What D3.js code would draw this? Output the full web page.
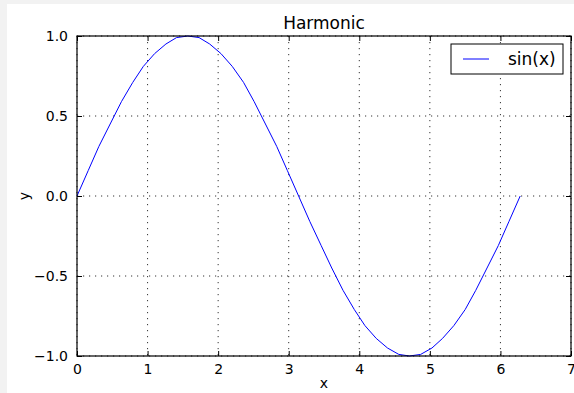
<!DOCTYPE html>
<html>
<head>
<meta charset="utf-8">
<script src="https://cdn.jsdelivr.net/npm/d3@7"></script>
<style>
  body { margin: 0; background: #f2f2f2; }
  text { font-family: "DejaVu Sans", sans-serif; fill: #000; }
</style>
</head>
<body>
<div id="chart"></div>
<script>
// values
var xs = [0, 0.16, 0.31, 0.47, 0.63, 0.79, 0.94, 1.10, 1.26, 1.41, 1.57, 1.73, 1.88, 2.04, 2.20, 2.36, 2.51, 2.67, 2.83, 2.98,
          3.14, 3.30, 3.46, 3.61, 3.77, 3.93, 4.08, 4.24, 4.40, 4.56, 4.71, 4.87, 5.03, 5.18, 5.34, 5.50, 5.65, 5.81, 5.97, 6.12, 6.28];
var ys = [0, 0.16, 0.31, 0.45, 0.59, 0.71, 0.81, 0.89, 0.95, 0.99, 1.00, 0.99, 0.95, 0.89, 0.81, 0.71, 0.59, 0.45, 0.31, 0.16,
          0.00, -0.16, -0.31, -0.45, -0.59, -0.71, -0.81, -0.89, -0.95, -0.99, -1.00, -0.99, -0.95, -0.89, -0.81, -0.71, -0.59, -0.45, -0.31, -0.16, 0.00];
var xTicks = [0, 1, 2, 3, 4, 5, 6, 7];
var yTicks = [-1.0, -0.5, 0.0, 0.5, 1.0];
var seriesName = "sin(x)";

var W = 574, H = 393;
var margin = {top: 36, right: 3, bottom: 37, left: 77},
    width = W - margin.left - margin.right,
    height = H - margin.top - margin.bottom;

var root = d3.select("#chart").append("svg")
    .attr("width", W)
    .attr("height", H);

// white figure area
root.append("rect")
    .attr("x", 7).attr("y", 4)
    .attr("width", W - 7).attr("height", H - 4)
    .attr("fill", "#fff");

var svg = root.append("g")
    .attr("transform", "translate(" + margin.left + "," + margin.top + ")");

var x = d3.scaleLinear().domain([0, 7]).range([0, width]);
var y = d3.scaleLinear().domain([-1, 1]).range([height, 0]);

// grid
svg.selectAll(".vgrid")
  .data(xTicks)
  .enter().append("line")
    .attr("x1", function(d) { return x(d); })
    .attr("x2", function(d) { return x(d); })
    .attr("y1", 0).attr("y2", height)
    .attr("stroke", "#000")
    .attr("stroke-width", 0.8)
    .attr("stroke-dasharray", "1.2,4.8");
svg.selectAll(".hgrid")
  .data(yTicks)
  .enter().append("line")
    .attr("y1", function(d) { return y(d); })
    .attr("y2", function(d) { return y(d); })
    .attr("x1", 0).attr("x2", width)
    .attr("stroke", "#000")
    .attr("stroke-width", 0.8)
    .attr("stroke-dasharray", "1.2,4.8");

// the curve
var pts = xs.map(function(v, i) { return [v, ys[i]]; });
svg.append("path")
    .datum(pts)
    .attr("fill", "none")
    .attr("stroke", "#0000ff")
    .attr("stroke-width", 1)
    .attr("d", d3.line()
      .x(function(d) { return x(d[0]); })
      .y(function(d) { return y(d[1]); }));

// axes, ticks pointing inward
function fmtY(d) { return d3.format(".1f")(d).replace("-", "\u2212"); }

var xb = svg.append("g")
    .attr("transform", "translate(0," + height + ")")
    .call(d3.axisBottom(x).tickValues(xTicks).tickSizeInner(-5).tickSizeOuter(0).tickPadding(8).tickFormat(d3.format("d")));
var xt = svg.append("g")
    .call(d3.axisTop(x).tickValues(xTicks).tickSizeInner(-5).tickSizeOuter(0).tickFormat(""));
var yl = svg.append("g")
    .call(d3.axisLeft(y).tickValues(yTicks).tickSizeInner(-5).tickSizeOuter(0).tickPadding(9).tickFormat(fmtY));
var yr = svg.append("g")
    .attr("transform", "translate(" + width + ",0)")
    .call(d3.axisRight(y).tickValues(yTicks).tickSizeInner(-5).tickSizeOuter(0).tickFormat(""));

[xb, xt, yl, yr].forEach(function(g) {
  g.select(".domain").remove();
  g.selectAll("line").attr("stroke", "#000");
  g.selectAll("text").style("font-size", "14px").style("font-family", "DejaVu Sans");
});

// frame
svg.append("rect")
    .attr("width", width).attr("height", height)
    .attr("fill", "none")
    .attr("stroke", "#000")
    .attr("stroke-width", 1.2);

// title and axis labels
svg.append("text")
    .attr("x", width / 2).attr("y", -7)
    .attr("text-anchor", "middle")
    .style("font-size", "17px")
    .text("Harmonic");

svg.append("text")
    .attr("x", width / 2).attr("y", height + 32)
    .attr("text-anchor", "middle")
    .style("font-size", "14px")
    .text("x");

svg.append("text")
    .attr("transform", "rotate(-90)")
    .attr("x", -height / 2).attr("y", -48)
    .attr("text-anchor", "middle")
    .style("font-size", "14px")
    .text("y");

// legend
var lg = svg.append("g").attr("transform", "translate(" + (451 - margin.left) + "," + (44 - margin.top) + ")");
lg.append("rect")
    .attr("width", 112).attr("height", 30)
    .attr("fill", "#fff")
    .attr("stroke", "#000")
    .attr("stroke-width", 1);
lg.append("line")
    .attr("x1", 12).attr("x2", 38)
    .attr("y1", 15).attr("y2", 15)
    .attr("stroke", "#0000ff")
    .attr("stroke-width", 1);
lg.append("text")
    .attr("x", 57).attr("y", 21)
    .style("font-size", "17px")
    .text(seriesName);
</script>
</body>
</html>
